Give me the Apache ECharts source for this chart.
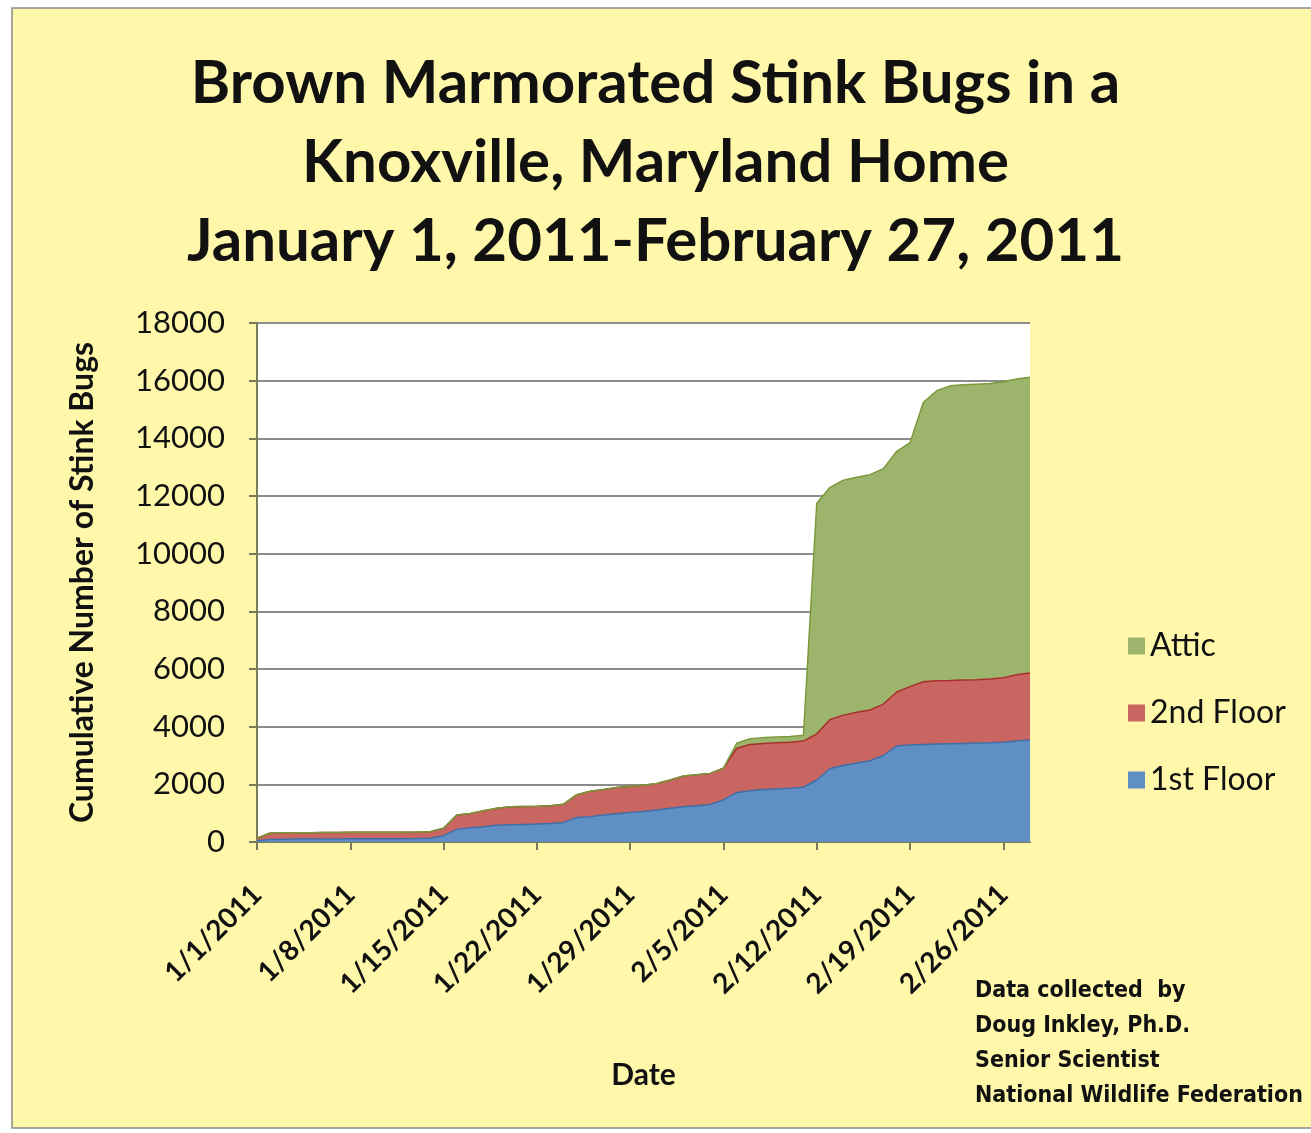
<!DOCTYPE html>
<html>
<head>
<meta charset="utf-8">
<script src="https://cdn.jsdelivr.net/npm/echarts@6/dist/echarts.min.js"></script>
<style>
  html, body { margin: 0; padding: 0; background: #ffffff; }
  #chart { width: 1311px; height: 1133px; }
</style>
</head>
<body>
<div id="chart"></div>
<script>
// Daily dates, 1 Jan 2011 through 28 Feb 2011
const dates = [
  '1/1/2011','1/2/2011','1/3/2011','1/4/2011','1/5/2011','1/6/2011','1/7/2011','1/8/2011','1/9/2011','1/10/2011',
  '1/11/2011','1/12/2011','1/13/2011','1/14/2011','1/15/2011','1/16/2011','1/17/2011','1/18/2011','1/19/2011','1/20/2011',
  '1/21/2011','1/22/2011','1/23/2011','1/24/2011','1/25/2011','1/26/2011','1/27/2011','1/28/2011','1/29/2011','1/30/2011',
  '1/31/2011','2/1/2011','2/2/2011','2/3/2011','2/4/2011','2/5/2011','2/6/2011','2/7/2011','2/8/2011','2/9/2011',
  '2/10/2011','2/11/2011','2/12/2011','2/13/2011','2/14/2011','2/15/2011','2/16/2011','2/17/2011','2/18/2011','2/19/2011',
  '2/20/2011','2/21/2011','2/22/2011','2/23/2011','2/24/2011','2/25/2011','2/26/2011','2/27/2011','2/28/2011'
];

// Cumulative counts per location (stacked)
const firstFloor = [
  40, 90, 95, 100, 100, 105, 105, 110, 110, 110,
  115, 115, 120, 130, 220, 440, 490, 530, 580, 600,
  610, 620, 640, 680, 850, 880, 940, 980, 1020, 1060,
  1110, 1170, 1220, 1260, 1300, 1460, 1720, 1780, 1820, 1840,
  1860, 1900, 2150, 2550, 2650, 2740, 2820, 3000, 3330, 3360,
  3380, 3400, 3410, 3420, 3430, 3440, 3460, 3500, 3540
];
const secondFloor = [
  90, 220, 225, 225, 225, 225, 225, 225, 225, 225,
  225, 225, 225, 225, 260, 500, 500, 550, 590, 620,
  620, 620, 620, 630, 790, 880, 880, 910, 910, 910,
  920, 980, 1070, 1070, 1080, 1100, 1530, 1600, 1600, 1600,
  1600, 1600, 1600, 1700, 1750, 1760, 1760, 1780, 1870, 2030,
  2180, 2190, 2190, 2200, 2200, 2210, 2240, 2300, 2320
];
const attic = [
  0, 0, 0, 0, 0, 0, 0, 0, 0, 0,
  0, 0, 0, 0, 0, 0, 0, 0, 0, 0,
  0, 0, 0, 0, 0, 0, 0, 0, 0, 0,
  0, 0, 0, 0, 0, 0, 180, 200, 200, 200,
  200, 200, 8000, 8050, 8150, 8150, 8160, 8170, 8350, 8460,
  9690, 10060, 10220, 10240, 10250, 10250, 10260, 10260, 10260
];

const yTicks = { min: 0, max: 18000, step: 2000 };

const titleLines = [
  'Brown Marmorated Stink Bugs in a',
  'Knoxville, Maryland Home',
  'January 1, 2011-February 27, 2011'
];
const creditLines = [
  'Data collected  by',
  'Doug Inkley, Ph.D.',
  'Senior Scientist',
  'National Wildlife Federation'
];

const FONT = 'Lato, "Open Sans", sans-serif';
const chart = echarts.init(document.getElementById('chart'), null, { renderer: 'canvas' });

function areaSeries(name, data, fill, edge) {
  return {
    name: name,
    type: 'line',
    stack: 'total',
    data: data,
    symbol: 'none',
    smooth: false,
    lineStyle: { color: edge, width: 1.5 },
    areaStyle: { color: fill, opacity: 1 },
    itemStyle: { color: fill },
    emphasis: { disabled: true }
  };
}

chart.setOption({
  animation: false,
  backgroundColor: '#ffffff',
  textStyle: { fontFamily: FONT },
  graphic: [
    {
      type: 'rect', z: -10, silent: true,
      shape: { x: 12, y: 8, width: 1320, height: 1120 },
      style: { fill: '#fff8ab', stroke: '#8a8a8a', lineWidth: 1.5 }
    },
    {
      type: 'text', left: 'center', top: 44, silent: true,
      style: {
        text: titleLines.join('\n'),
        font: 'bold 60px ' + FONT,
        fill: '#111111',
        textAlign: 'center',
        lineHeight: 79
      }
    },
    {
      type: 'text', left: 975, top: 974, silent: true,
      style: {
        text: creditLines.join('\n'),
        font: 'bold 23px "Liberation Sans Narrow", "DejaVu Sans Condensed", sans-serif',
        fill: '#111111',
        lineHeight: 35
      }
    }
  ],
  legend: {
    data: ['Attic', '2nd Floor', '1st Floor'],
    orient: 'vertical',
    left: 1123,
    top: 625,
    itemWidth: 17,
    itemHeight: 17,
    itemGap: 35,
    icon: 'rect',
    textStyle: { fontFamily: FONT, fontSize: 32, color: '#111111' }
  },
  grid: {
    left: 257, top: 323, right: 281, bottom: 291,
    show: true, backgroundColor: '#ffffff', borderWidth: 0
  },
  xAxis: {
    type: 'category',
    data: dates,
    boundaryGap: false,
    name: 'Date',
    nameLocation: 'middle',
    nameGap: 218,
    nameTextStyle: { fontFamily: FONT, fontSize: 30, fontWeight: 'bold', color: '#111111' },
    axisLine: { show: true, lineStyle: { color: '#7a7a5a', width: 2 } },
    axisTick: { show: true, interval: 6, length: 8, lineStyle: { color: '#7a7a5a', width: 2 } },
    axisLabel: {
      interval: 6, rotate: 45, margin: 48,
      fontFamily: FONT, fontSize: 28, fontWeight: 'bold', color: '#111111'
    },
    splitLine: { show: false }
  },
  yAxis: {
    type: 'value',
    min: yTicks.min, max: yTicks.max, interval: yTicks.step,
    name: 'Cumulative Number of Stink Bugs',
    nameLocation: 'middle',
    nameGap: 158,
    nameRotate: 90,
    nameTextStyle: { fontFamily: FONT, fontSize: 32, fontWeight: 'bold', color: '#111111' },
    axisLine: { show: true, lineStyle: { color: '#7a7a5a', width: 2 } },
    axisTick: { show: true, length: 8, lineStyle: { color: '#7a7a5a', width: 2 } },
    axisLabel: {
      margin: 32, fontFamily: FONT, fontSize: 31, color: '#111111',
      formatter: function (v) { return String(v); }
    },
    splitLine: { show: true, lineStyle: { color: '#8c8c8c', width: 2 } }
  },
  series: [
    areaSeries('1st Floor', firstFloor, '#5f8fc4', '#3e6fa8'),
    areaSeries('2nd Floor', secondFloor, '#c96662', '#a8302c'),
    areaSeries('Attic', attic, '#9db46c', '#7a9a3a')
  ]
});
</script>
</body>
</html>
